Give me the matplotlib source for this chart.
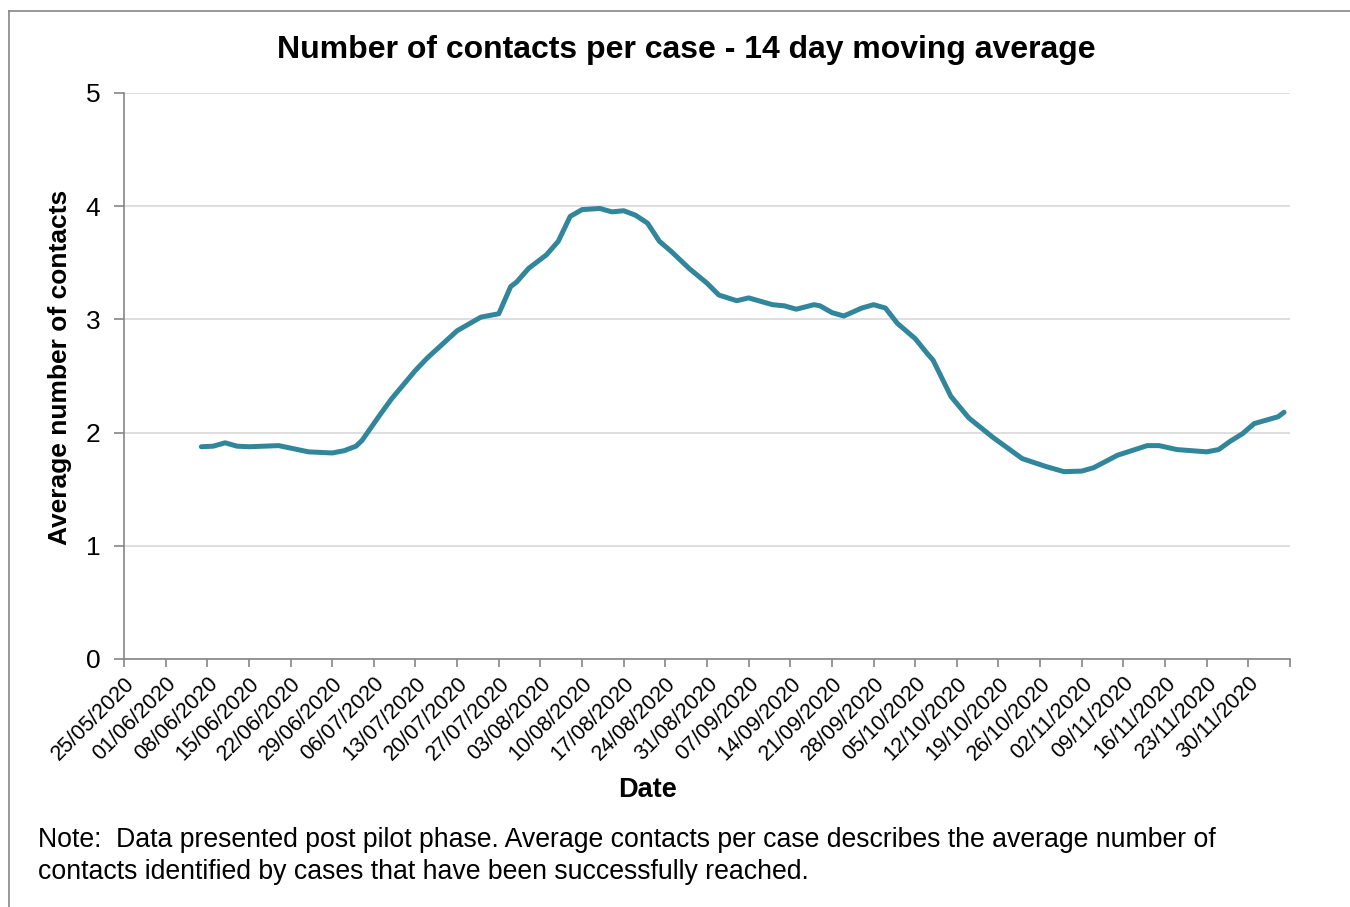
import matplotlib
matplotlib.use("Agg")
import matplotlib.pyplot as plt
from matplotlib.lines import Line2D
import pandas as pd

plt.rcParams['font.family'] = ['Liberation Sans', 'DejaVu Sans']

dates = ["07/06/2020", "09/06/2020", "11/06/2020", "13/06/2020", "15/06/2020",
         "20/06/2020", "25/06/2020", "29/06/2020", "01/07/2020", "03/07/2020",
         "04/07/2020", "07/07/2020", "09/07/2020", "13/07/2020", "15/07/2020",
         "20/07/2020", "24/07/2020", "27/07/2020", "29/07/2020", "30/07/2020",
         "01/08/2020", "04/08/2020", "06/08/2020", "08/08/2020", "10/08/2020",
         "13/08/2020", "15/08/2020", "17/08/2020", "19/08/2020", "21/08/2020",
         "23/08/2020", "25/08/2020", "28/08/2020", "31/08/2020", "02/09/2020",
         "05/09/2020", "07/09/2020", "11/09/2020", "13/09/2020", "15/09/2020",
         "18/09/2020", "19/09/2020", "21/09/2020", "23/09/2020", "26/09/2020",
         "28/09/2020", "30/09/2020", "02/10/2020", "05/10/2020", "07/10/2020",
         "08/10/2020", "11/10/2020", "14/10/2020", "18/10/2020", "23/10/2020",
         "25/10/2020", "27/10/2020", "30/10/2020", "02/11/2020", "04/11/2020",
         "08/11/2020", "13/11/2020", "15/11/2020", "18/11/2020", "23/11/2020",
         "25/11/2020", "27/11/2020", "29/11/2020", "01/12/2020", "05/12/2020",
         "06/12/2020"]
contacts = [1.875, 1.88, 1.91, 1.88, 1.875,
            1.885, 1.83, 1.82, 1.84, 1.88,
            1.93, 2.155, 2.30, 2.55, 2.66,
            2.90, 3.02, 3.05, 3.29, 3.33,
            3.45, 3.57, 3.69, 3.91, 3.97,
            3.98, 3.95, 3.96, 3.92, 3.85,
            3.69, 3.60, 3.45, 3.32, 3.215,
            3.165, 3.19, 3.13, 3.12, 3.09,
            3.13, 3.12, 3.06, 3.03, 3.10,
            3.13, 3.10, 2.965, 2.83, 2.70,
            2.64, 2.32, 2.13, 1.96, 1.77,
            1.735, 1.70, 1.655, 1.66, 1.69,
            1.80, 1.885, 1.885, 1.85, 1.83,
            1.85, 1.925, 1.99, 2.08, 2.14,
            2.18]

tick_dates = pd.date_range("2020-05-25", "2020-12-07", freq="7D")
tick_labels = [d.strftime("%d/%m/%Y") for d in tick_dates[:-1]] + [""]

title = "Number of contacts per case - 14 day moving average"
ylabel = "Average number of contacts"
xlabel = "Date"
note = ("Note:  Data presented post pilot phase. Average contacts per case describes the average number of\n"
        "contacts identified by cases that have been successfully reached.")

x = pd.to_datetime(dates, format="%d/%m/%Y")

fig = plt.figure(figsize=(13.5, 9.07), dpi=100)
ax = fig.add_axes([124/1350, 1-659/907, (1290-124)/1350, (659-93)/907])

ax.plot(x, contacts, color="#31869b", lw=3.6, solid_capstyle="round", solid_joinstyle="round", zorder=3)

ax.set_xlim(tick_dates[0], tick_dates[-1])
ax.set_ylim(0, 5)
ax.set_yticks([0, 1, 2, 3, 4, 5])
ax.set_xticks(tick_dates)
ax.set_xticklabels(tick_labels, rotation=45, ha="right", rotation_mode="anchor", fontsize=15.5)
ax.tick_params(axis="y", labelsize=19, length=7, width=1.2, color="#868686", pad=10)
ax.tick_params(axis="x", length=6, width=1.2, color="#868686", pad=4)
ax.grid(axis="y", color="#d9d9d9", lw=1.2, zorder=0)
ax.set_axisbelow(True)
for s in ["top", "right"]:
    ax.spines[s].set_visible(False)
for s in ["left", "bottom"]:
    ax.spines[s].set_color("#868686")
    ax.spines[s].set_linewidth(1.2)

fig.text(60/1350, 1-367/907, ylabel, fontsize=19, fontweight="bold", ha="center", va="center", rotation=90)
fig.text(648/1350, 1-790/907, xlabel, fontsize=19.5, fontweight="bold", ha="center", va="center")
fig.text(686/1350, 1-50/907, title, fontsize=23, fontweight="bold", ha="center", va="center")
fig.text(38/1350, 1-856/907, note, fontsize=19.2, ha="left", va="center", linespacing=1.33)

fig.add_artist(Line2D([9/1350, 9/1350], [0, 1-11/907], color="#868686", lw=1.2, transform=fig.transFigure))
fig.add_artist(Line2D([9/1350, 1], [1-11/907, 1-11/907], color="#868686", lw=1.2, transform=fig.transFigure))

fig.savefig("out.png", dpi=100)
